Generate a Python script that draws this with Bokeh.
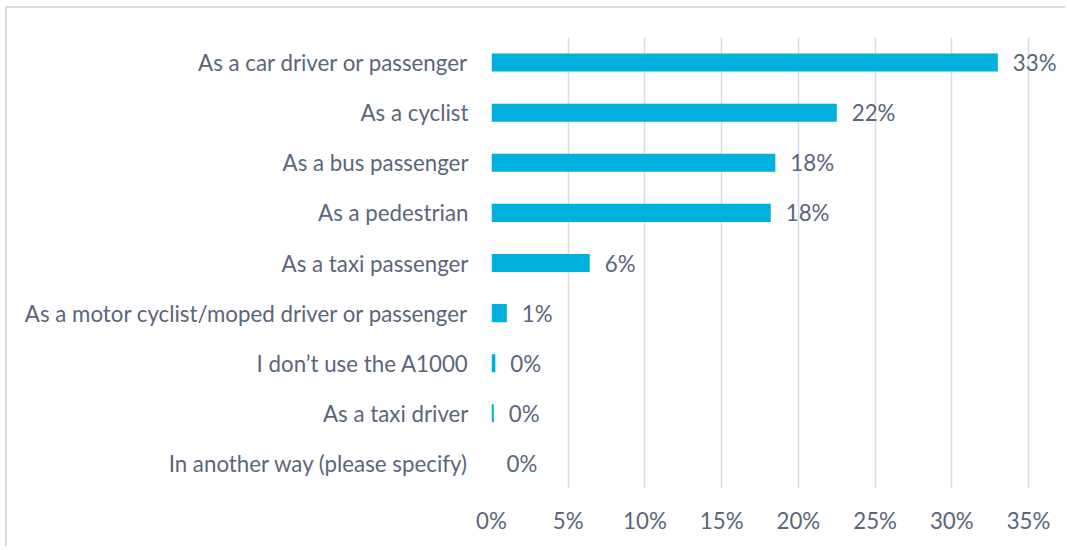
from bokeh.plotting import figure
from bokeh.models import Range1d, FactorRange, NumeralTickFormatter, FixedTicker, ColumnDataSource, InlineStyleSheet
from bokeh.core.properties import value
from bokeh.embed import file_html
from bokeh.resources import INLINE

categories = [
    "As a car driver or passenger",
    "As a cyclist",
    "As a bus passenger",
    "As a pedestrian",
    "As a taxi passenger",
    "As a motor cyclist/moped driver or passenger",
    "I don\u2019t use the A1000",
    "As a taxi driver",
    "In another way (please specify)",
]
shares = [0.330, 0.225, 0.185, 0.182, 0.064, 0.010, 0.0025, 0.0015, 0.0]
share_labels = ["33%", "22%", "18%", "18%", "6%", "1%", "0%", "0%", "0%"]
x_ticks = [0, 0.05, 0.10, 0.15, 0.20, 0.25, 0.30, 0.35]

FONT = "Lato"
FS = "22.3px"
TXT = "#5a667a"
BAR = "#00b0dd"
GRID = "#d6dce5"

src = ColumnDataSource(dict(cat=categories, val=shares, lab=share_labels))

p = figure(
    width=1060, height=540,
    y_range=FactorRange(factors=list(reversed(categories))),
    x_range=Range1d(0, 0.35 * 576 / 537),
    output_backend="svg", toolbar_location=None,
    min_border_left=484, min_border_top=29, min_border_right=0, min_border_bottom=60,
)
p.stylesheets = [InlineStyleSheet(css=":host { margin-left: 5px; margin-top: 6px; "
                                      "border-top: 2px solid #dadee4; border-left: 2px solid #dadee4; }")]
p.outline_line_color = None

p.hbar(y="cat", left=0, right="val", height=0.36, source=src,
       fill_color=BAR, line_color=None)
p.text(x="val", y="cat", text="lab", source=src, x_offset=15,
       text_align="left", text_baseline="middle",
       text_font=value(FONT), text_font_size=FS, text_color=TXT)

p.xaxis.ticker = FixedTicker(ticks=x_ticks)
p.xaxis.formatter = NumeralTickFormatter(format="0%")
for ax in (p.xaxis[0], p.yaxis[0]):
    ax.axis_line_color = None
    ax.major_tick_line_color = None
    ax.minor_tick_line_color = None
    ax.major_tick_out = 0
    ax.major_label_text_font = FONT
    ax.major_label_text_font_size = FS
    ax.major_label_text_color = TXT
p.xaxis.major_label_standoff = 18
p.yaxis.major_label_standoff = 23

p.ygrid.grid_line_color = None
p.xgrid.grid_line_color = GRID
p.xgrid.grid_line_width = 1.5

open("out.html", "w").write(file_html(p, INLINE))
